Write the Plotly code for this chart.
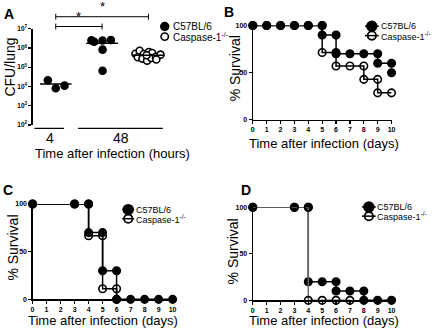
import plotly.graph_objects as go
import numpy as np

W, H = 435, 333

# ---------------- Panel A data (CFU/lung) ----------------
a_group_labels = ["4", "48"]
a_4h_c57 = [2.1e4, 8.0e3, 1.1e4]
a_48h_c57 = [2.5e6, 2.1e6, 2.45e6, 2.6e6, 8.2e5, 6.5e4]
a_48h_casp = [5.0e5, 7.2e5, 4.9e5, 6.2e5, 5.5e5, 3.3e5, 2.8e5, 2.2e5,
              3.0e5, 3.5e5, 4.5e5, 4.2e5, 2.5e5]
a_yticks = [1e2, 1e3, 1e4, 1e5, 1e6, 1e7]

# ---------------- Survival data (days, % survival) ----------------
b_c57_days = [0, 1, 2, 3, 4, 5, 5, 6, 6, 7, 8, 9, 9, 10, 10]
b_c57_surv = [100, 100, 100, 100, 100, 100, 90, 90, 70, 70, 70, 70, 60, 60, 50]
b_casp_days = [0, 1, 2, 3, 4, 5, 5, 6, 6, 7, 8, 8, 9, 9, 10]
b_casp_surv = [100, 100, 100, 100, 100, 100, 71.4, 71.4, 57.1, 57.1, 57.1, 42.9, 42.9, 28.6, 28.6]

c_c57_days = [0, 3, 4, 4, 5, 5, 6, 6, 7, 8, 9, 10]
c_c57_surv = [100, 100, 100, 70, 70, 30, 30, 0, 0, 0, 0, 0]
c_casp_days = [0, 3, 4, 4, 5, 5, 6, 6]
c_casp_surv = [100, 100, 100, 66.7, 66.7, 11.1, 11.1, 0]

d_c57_days = [0, 3, 4, 4, 5, 6, 6, 7, 8, 8, 9, 10]
d_c57_surv = [100, 100, 100, 20, 20, 20, 10, 10, 10, 0, 0, 0]
d_casp_days = [0, 3, 4, 4, 5, 6, 7]
d_casp_surv = [100, 100, 100, 0, 0, 0, 0]

day_ticks = list(range(0, 11))
surv_ticks = [0, 50, 100]

series_names = ["C57BL/6", "Caspase-1<sup>-/-</sup>"]

# ---------------- helpers ----------------
FONT = "Liberation Sans, Arial, sans-serif"


def px(x):
    return x / W


def py(y):
    return 1 - y / H


# jitter offsets (layout only)
j_4h = [-0.17, 0.0, 0.19]
j_48c = [-0.23, -0.17, 0.01, 0.19, 0.01, 0.01]
j_48k = [-0.28, -0.19, -0.10, 0.01, 0.08, -0.23, -0.13, -0.03, 0.06, 0.16, 0.26, -0.04, 0.17]

fig = go.Figure()

# ---- Panel A traces ----
groups = [(1, a_4h_c57, j_4h, True), (2, a_48h_c57, j_48c, True), (3, a_48h_casp, j_48k, False)]
for c, vals, jit, filled in groups:
    fig.add_trace(go.Scatter(
        x=[c + j for j in jit], y=vals, mode="markers",
        marker=dict(size=7, color="black" if filled else "white",
                    symbol="circle", line=dict(color="black", width=1.6)),
        xaxis="x", yaxis="y", cliponaxis=False, hoverinfo="skip"))
    m = float(np.mean(vals))
    fig.add_trace(go.Scatter(
        x=[c - 0.34, c + 0.34], y=[m, m], mode="lines",
        line=dict(color="black", width=1.4),
        xaxis="x", yaxis="y", cliponaxis=False, hoverinfo="skip"))


def add_surv(days, surv, xa, ya, filled, lcolor="black"):
    fig.add_trace(go.Scatter(
        x=days, y=surv, mode="lines+markers",
        line=dict(color=lcolor, width=1.5),
        marker=dict(size=7.5, color="black",
                    symbol="circle" if filled else "circle-open",
                    line=dict(color="black", width=1.6)),
        xaxis=xa, yaxis=ya, cliponaxis=False, hoverinfo="skip"))


add_surv(b_casp_days, b_casp_surv, "x2", "y2", False)
add_surv(b_c57_days, b_c57_surv, "x2", "y2", True)
add_surv(c_casp_days, c_casp_surv, "x3", "y3", False)
add_surv(c_c57_days, c_c57_surv, "x3", "y3", True)
add_surv(d_c57_days, d_c57_surv, "x4", "y4", True)
add_surv(d_casp_days, d_casp_surv, "x4", "y4", False, lcolor="#666666")

# ---------------- axes ----------------
tickfont = dict(size=7, color="black", family=FONT, weight="bold")


def surv_axes(xdom, ydom, xa_name, ya_name):
    xa = dict(domain=[px(xdom[0]), px(xdom[1])], range=[0, 10], anchor=ya_name,
              showline=True, linecolor="black", linewidth=1.2, ticks="outside",
              ticklen=3, tickwidth=1.2, tickcolor="black", tickvals=day_ticks,
              tickfont=tickfont, showgrid=False, zeroline=False, fixedrange=True)
    ya = dict(domain=[py(ydom[1]), py(ydom[0])], range=[0, 100], anchor=xa_name,
              showline=True, linecolor="black", linewidth=1.2, ticks="outside",
              ticklen=3, tickwidth=1.2, tickcolor="black", tickvals=surv_ticks,
              tickfont=tickfont, showgrid=False, zeroline=False, fixedrange=True)
    return xa, ya


xa2, ya2 = surv_axes((254.3, 395), (22, 118.3), "x2", "y2")
xa3, ya3 = surv_axes((31, 173), (204.3, 301.7), "x3", "y3")
xa4, ya4 = surv_axes((254.3, 395), (207.7, 302.7), "x4", "y4")

fig.update_layout(
    width=W, height=H, margin=dict(l=0, r=0, t=0, b=0),
    paper_bgcolor="white", plot_bgcolor="white", showlegend=False,
    font=dict(family=FONT, color="black"),
    xaxis=dict(domain=[px(31), px(172)], range=[0.5, 3.5], anchor="y",
               visible=False, fixedrange=True),
    yaxis=dict(domain=[py(123.5), py(25.3)], type="log", range=[2, 7], anchor="x",
               showline=True, linecolor="black", linewidth=1.2, ticks="outside",
               ticklen=3, tickwidth=1.2, tickcolor="black", tickvals=a_yticks,
               ticktext=[f"10<sup>{int(np.log10(v))}</sup>" for v in a_yticks],
               tickfont=dict(size=6.5, color="black", family=FONT, weight="bold"),
               showgrid=False, zeroline=False, fixedrange=True),
    xaxis2=xa2, yaxis2=ya2, xaxis3=xa3, yaxis3=ya3, xaxis4=xa4, yaxis4=ya4,
)

shapes = []
ann = []

# group underline segments in A
for x0, x1 in [(0.54, 1.18), (1.48, 3.31)]:
    shapes.append(dict(type="line", xref="x", yref="paper", x0=x0, x1=x1,
                       y0=py(127), y1=py(127), line=dict(color="black", width=1.2)))
for xc, lab in zip([0.87, 2.4], a_group_labels):
    ann.append(dict(x=xc, y=py(136.5), xref="x", yref="paper", text=lab, showarrow=False,
                    font=dict(size=14, family=FONT), xanchor="center", yanchor="middle"))

# significance brackets
for g0, g1, yb in [(1, 3, 13), (1, 2, 23)]:
    shapes.append(dict(type="line", xref="x", yref="paper", x0=g0, x1=g1,
                       y0=py(yb), y1=py(yb), line=dict(color="black", width=1)))
    for g in (g0, g1):
        shapes.append(dict(type="line", xref="x", yref="paper", x0=g, x1=g,
                           y0=py(yb - 3), y1=py(yb + 3), line=dict(color="black", width=1)))
    ann.append(dict(x=(g0 + g1) / 2, y=py(yb - 1), xref="x", yref="paper", text="*",
                    showarrow=False, font=dict(size=13, family=FONT),
                    xanchor="center", yanchor="bottom"))


# legends (pixel placement)
def circle(cx, cy, d, filled, lw=1.6):
    shapes.append(dict(type="circle", xref="paper", yref="paper",
                       x0=px(cx - d / 2), x1=px(cx + d / 2),
                       y0=py(cy + d / 2), y1=py(cy - d / 2),
                       fillcolor="black" if filled else "rgba(0,0,0,0)",
                       line=dict(color="black", width=lw)))


def hline(x0, x1, y):
    shapes.append(dict(type="line", xref="paper", yref="paper", x0=px(x0), x1=px(x1),
                       y0=py(y), y1=py(y), line=dict(color="black", width=1.5)))


def legend_text(x, y, text, size):
    ann.append(dict(x=px(x), y=py(y), xref="paper", yref="paper", text=text,
                    showarrow=False, font=dict(size=size, family=FONT),
                    xanchor="left", yanchor="middle"))


# A legend
circle(165, 23, 8, True)
circle(165, 33.3, 7.5, False)
legend_text(171.5, 23, series_names[0], 10)
legend_text(171.5, 33.3, series_names[1], 10)

# B, C, D legends
for (lx0, lx1, mx, tx, y1, y2) in [(368, 382, 375, 382.5, 22.7, 32.3),
                                    (122, 134, 128, 133.5, 210, 219.3),
                                    (365, 379, 372, 378.5, 207.3, 216.7)]:
    hline(lx0, lx1, y1)
    circle(mx, y1, 10, True)
    hline(lx0, lx1, y2)
    circle(mx, y2, 8.5, False, lw=1.8)
    legend_text(tx, y1, series_names[0], 9)
    legend_text(tx, y2, series_names[1], 9)

# panel letters
for lab, x, y in [("A", 7, 10), ("B", 230, 8), ("C", 6, 190), ("D", 247, 190)]:
    ann.append(dict(x=px(x), y=py(y), xref="paper", yref="paper", text=f"<b>{lab}</b>",
                    showarrow=False, font=dict(size=14, family=FONT),
                    xanchor="center", yanchor="middle"))

# axis titles
for txt, x, y in [("Time after infection (hours)", 112, 153),
                  ("Time after infection (days)", 327, 142),
                  ("Time after infection (days)", 102, 323),
                  ("Time after infection (days)", 327, 323)]:
    ann.append(dict(x=px(x), y=py(y), xref="paper", yref="paper", text=txt,
                    showarrow=False, font=dict(size=13, family=FONT),
                    xanchor="center", yanchor="middle"))
for txt, x, y in [("CFU/lung", 8, 64), ("% Survival", 236, 66),
                  ("% Survival", 11, 249), ("% Survival", 234, 253)]:
    ann.append(dict(x=px(x), y=py(y), xref="paper", yref="paper", text=txt,
                    showarrow=False, textangle=-90, font=dict(size=14, family=FONT),
                    xanchor="center", yanchor="middle"))

fig.update_layout(shapes=shapes, annotations=ann)
fig.write_html("out.html",
               config={"displayModeBar": False, "staticPlot": True},
               post_script="document.body.style.margin='0';"
                           "document.body.style.overflow='hidden';")
